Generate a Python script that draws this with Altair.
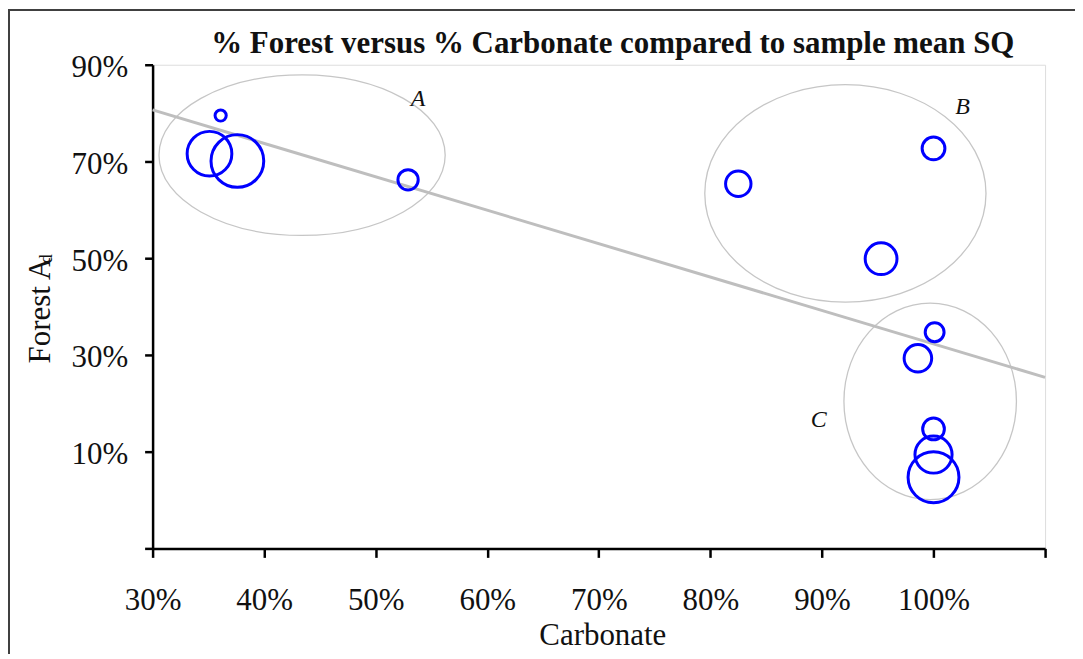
import math
import altair as alt
import pandas as pd

# ---------------- data ----------------
carbonate = [0.361, 0.351, 0.376, 0.529, 0.825, 1.000, 0.953, 1.001, 0.986, 1.000, 1.000, 1.000]
forest = [0.795, 0.716, 0.701, 0.662, 0.654, 0.727, 0.499, 0.347, 0.293, 0.147, 0.094, 0.047]
sample_mean_sq = [0.40, 6.4, 8.9, 1.32, 2.07, 1.66, 3.24, 1.14, 2.43, 1.51, 4.41, 8.29]
group = ["A", "A", "A", "A", "B", "B", "B", "C", "C", "C", "C", "C"]

x_ticks = [0.3, 0.4, 0.5, 0.6, 0.7, 0.8, 0.9, 1.0, 1.1]
y_ticks = [-0.1, 0.1, 0.3, 0.5, 0.7, 0.9]

group_names = ["A", "B", "C"]
group_label_x = [0.538, 1.026, 0.897]
group_label_y = [0.815, 0.799, 0.150]
ellipse_cx = [0.434, 0.921, 0.997]
ellipse_cy = [0.713, 0.634, 0.204]

# ---------------- styles ----------------
SERIF = "Liberation Serif"
ellipse_half_px = [(143.5, 80.5), (141.0, 109.0), (86.5, 98.5)]


def ellipse_path(a, b):
    m = max(a, b)
    ax, by = a / m, b / m
    k = 0.5523
    p = (f"M {ax:.4f} 0 C {ax:.4f} {k*by:.4f} {k*ax:.4f} {by:.4f} 0 {by:.4f} "
         f"C {-k*ax:.4f} {by:.4f} {-ax:.4f} {k*by:.4f} {-ax:.4f} 0 "
         f"C {-ax:.4f} {-k*by:.4f} {-k*ax:.4f} {-by:.4f} 0 {-by:.4f} "
         f"C {k*ax:.4f} {-by:.4f} {ax:.4f} {-k*by:.4f} {ax:.4f} 0 Z")
    return p, 4 * m * m


df = pd.DataFrame({"carbonate": carbonate, "forest": forest,
                   "sq": sample_mean_sq, "group": group})

ell_paths = [ellipse_path(a, b) for a, b in ellipse_half_px]
ell_df = pd.DataFrame({"cx": ellipse_cx, "cy": ellipse_cy,
                       "path": [p for p, s in ell_paths],
                       "size": [s for p, s in ell_paths]})
lab_df = pd.DataFrame({"name": group_names, "lx": group_label_x, "ly": group_label_y})

x_scale = alt.Scale(domain=[0.3, 1.1], nice=False, zero=False)
y_scale = alt.Scale(domain=[-0.1, 0.9], nice=False, zero=False)

x_axis = alt.Axis(values=x_ticks, grid=False,
                  labelExpr="datum.value > 1.05 ? '' : format(datum.value, '.0%')",
                  labelFont=SERIF, labelFontSize=31, labelColor="#111111",
                  labelBaseline="alphabetic", labelPadding=52, labelFlush=False,
                  labelOverlap=False,
                  tickSize=9, tickWidth=2.5, tickColor="black",
                  domainWidth=2.5, domainColor="black",
                  title="Carbonate", titleFont=SERIF, titleFontSize=31,
                  titleFontWeight="normal", titleColor="#111111",
                  titleX=451, titleY=96, titleAlign="center",
                  titleBaseline="alphabetic")

y_axis = alt.Axis(values=y_ticks, grid=False,
                  labelExpr="datum.value < 0 ? '' : format(datum.value, '.0%')",
                  labelFont=SERIF, labelFontSize=31, labelColor="#111111",
                  labelBaseline="middle", labelPadding=17, labelFlush=False,
                  labelOverlap=False, labelOffset=3,
                  tickSize=8, tickWidth=2.5, tickColor="black",
                  domainWidth=2.5, domainColor="black",
                  title="Forest A", titleFont=SERIF, titleFontSize=31,
                  titleFontWeight="normal", titleColor="#111111",
                  titleAngle=270, titleX=-103, titleY=299, titleAlign="left",
                  titleBaseline="alphabetic")

frame = alt.Chart(pd.DataFrame({"f": [0]})).mark_rect(
    fill="transparent", stroke="#404040", strokeWidth=2
).encode(x=alt.value(-144), y=alt.value(-55), x2=alt.value(1300), y2=alt.value(900))

ellipses = alt.Chart(ell_df).mark_point(
    filled=False, stroke="#c6c6c6", strokeWidth=1.3, opacity=1
).encode(
    x=alt.X("cx:Q", scale=x_scale, axis=x_axis),
    y=alt.Y("cy:Q", scale=y_scale, axis=y_axis),
    shape=alt.Shape("path:N", scale=None),
    size=alt.Size("size:Q", scale=None),
)

trend = alt.Chart(df).transform_regression(
    "carbonate", "forest", extent=[0.3, 1.1]
).mark_line(color="#bebebe", strokeWidth=3).encode(
    x=alt.X("carbonate:Q", scale=x_scale),
    y=alt.Y("forest:Q", scale=y_scale),
)

bubbles = alt.Chart(df).mark_point(
    filled=False, shape="circle", stroke="#0000ff", strokeWidth=3, opacity=1
).encode(
    x=alt.X("carbonate:Q", scale=x_scale),
    y=alt.Y("forest:Q", scale=y_scale),
    size=alt.Size("sq:Q", scale=alt.Scale(domain=[0, 10], range=[0, 1000 * math.pi]),
                  legend=None),
)

labels = alt.Chart(lab_df).mark_text(
    font=SERIF, fontSize=24, fontStyle="italic", color="#111111",
    align="center", baseline="alphabetic"
).encode(
    x=alt.X("lx:Q", scale=x_scale),
    y=alt.Y("ly:Q", scale=y_scale),
    text="name:N",
)

subscript = alt.Chart(pd.DataFrame({"t": ["d"]})).mark_text(
    font=SERIF, fontSize=18, color="#111111", angle=270,
    align="left", baseline="alphabetic"
).encode(x=alt.value(-101), y=alt.value(199), text="t:N")

chart = alt.layer(frame, ellipses, trend, bubbles, labels, subscript).properties(
    width=895, height=485,
    autosize=alt.AutoSizeParams(type="none"),
    padding={"left": 145, "top": 56, "right": 30, "bottom": 105},
    title=alt.TitleParams(
        text="% Forest versus % Carbonate compared to sample mean SQ",
        font=SERIF, fontSize=31, fontWeight="bold", color="#111111",
        anchor="middle", frame="group", offset=0, baseline="alphabetic",
        dx=14, dy=75,
    ),
).configure_view(stroke="transparent", strokeWidth=0).configure(background="white")

chart.save("out.html", embed_options={"renderer": "svg", "actions": False})
